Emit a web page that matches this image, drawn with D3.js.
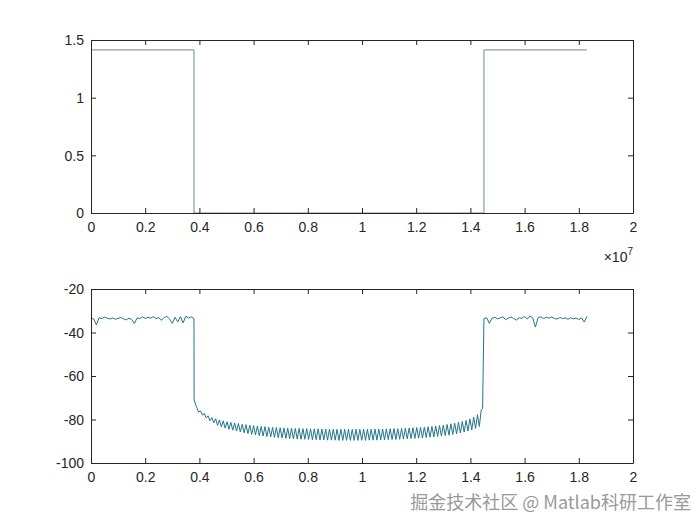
<!DOCTYPE html>
<html>
<head>
<meta charset="utf-8">
<script src="https://cdn.jsdelivr.net/npm/d3@7"></script>
<style>
  body { margin: 0; background: #fff; }
  svg { font-family: "Liberation Sans", Arial, sans-serif; }
</style>
</head>
<body>
<svg id="chart" width="700" height="525"></svg>
<script>
// x ticks shared by both panels (frequency, in units of 1e7)
const xTicks = [0, 0.2, 0.4, 0.6, 0.8, 1, 1.2, 1.4, 1.6, 1.8, 2];
const topYTicks = [0, 0.5, 1, 1.5];
const bottomYTicks = [-100, -80, -60, -40, -20];

// top panel: ideal magnitude response
const idealFreq = [0, 0.38, 0.38, 1.45, 1.45, 1.83];
const idealAmp = [1.4142, 1.4142, 0, 0, 1.4142, 1.4142];

// bottom panel: measured response in dB
// left passband, sampled every 0.01 from 0
const passLeftDb = [-33.5, -33.8, -36.5, -33.2, -33.6, -32.9, -33.4, -33.8, -33.3, -33.9,
  -33.5, -33.1, -33.7, -34.2, -33.4, -34.0, -35.9, -33.3, -33.6, -32.8,
  -33.5, -33.0, -33.4, -32.7, -33.6, -33.2, -34.4, -33.1, -32.6, -33.8,
  -35.8, -33.0, -35.2, -32.7, -35.6, -32.5, -33.4, -32.8, -33.6];
// falling edge
const fallFreq = [0.3805, 0.385];
const fallDb = [-71.0, -72.8];
// stopband ripple, sampled every 0.007 from 0.39
const stopDb = [
  -74.5, -76.6, -76.0, -78.0, -77.2, -79.3, -78.3, -80.6, -79.1, -81.5,
  -79.7, -82.7, -80.2, -83.4, -80.6, -84.0, -81.0, -84.5, -81.3, -84.9,
  -81.6, -85.3, -81.9, -85.7, -82.2, -86.1, -82.4, -86.5, -82.6, -86.8,
  -82.8, -87.1, -83.0, -87.4, -83.2, -87.6, -83.3, -87.8, -83.5, -88.0,
  -83.6, -88.2, -83.7, -88.4, -83.8, -88.5, -83.9, -88.7, -84.0, -88.8,
  -84.0, -88.9, -84.1, -89.0, -84.1, -89.1, -84.2, -89.1, -84.2, -89.2,
  -84.3, -89.3, -84.3, -89.3, -84.3, -89.4, -84.4, -89.4, -84.4, -89.5,
  -84.4, -89.5, -84.5, -89.5, -84.5, -89.6, -84.5, -89.6, -84.5, -89.6,
  -84.5, -89.6, -84.5, -89.6, -84.5, -89.6, -84.5, -89.6, -84.5, -89.6,
  -84.5, -89.5, -84.5, -89.5, -84.4, -89.5, -84.4, -89.4, -84.4, -89.4,
  -84.3, -89.3, -84.3, -89.2, -84.2, -89.2, -84.2, -89.1, -84.1, -89.0,
  -84.0, -88.9, -83.9, -88.8, -83.8, -88.7, -83.7, -88.6, -83.6, -88.5,
  -83.5, -88.3, -83.3, -88.1, -83.2, -88.0, -83.0, -87.8, -82.8, -87.6,
  -82.6, -87.4, -82.3, -87.2, -82.0, -86.9, -81.7, -86.6, -81.3, -86.2,
  -80.9, -85.8, -80.4, -85.3, -79.7, -84.8, -78.9, -84.1, -77.8, -83.2,
  -75.5];
// rising edge
const riseFreq = [1.445];
const riseDb = [-75.0];
// right passband, sampled every 0.01 from 1.45
const passRightDb = [-33.6, -33.2, -35.8, -33.4, -33.0, -33.7, -33.3, -32.8, -34.1, -33.4,
  -32.9, -33.6, -34.3, -33.2, -33.5, -32.6, -33.8, -32.4, -33.3, -37.5,
  -33.1, -32.8, -33.6, -33.0, -33.4, -32.9, -33.5, -33.8, -33.1, -33.6,
  -33.3, -33.9, -33.2, -33.7, -33.4, -34.0, -33.3, -35.2, -32.6];

const measured = [];
passLeftDb.forEach((v, i) => measured.push([i * 0.01, v]));
fallFreq.forEach((f, i) => measured.push([f, fallDb[i]]));
stopDb.forEach((v, i) => measured.push([0.39 + i * 0.007, v]));
riseFreq.forEach((f, i) => measured.push([f, riseDb[i]]));
passRightDb.forEach((v, i) => measured.push([1.45 + i * 0.01, v]));

const ideal = idealFreq.map((f, i) => [f, idealAmp[i]]);

const svg = d3.select("#chart");
const axisColor = "#262626";
const left = 91, right = 633;

const x = d3.scaleLinear().domain([0, 2]).range([left, right]);

function panel(top, bottom, yDomain, yTicks, data, color) {
  const y = d3.scaleLinear().domain(yDomain).range([bottom, top]);
  const g = svg.append("g");

  g.append("path")
    .datum(data)
    .attr("fill", "none")
    .attr("stroke", color)
    .attr("stroke-width", 1)
    .attr("d", d3.line().x(d => x(d[0])).y(d => y(d[1])));

  const fmt = d => String(+d.toFixed(1));

  const xb = g.append("g")
    .attr("transform", `translate(0,${bottom})`)
    .call(d3.axisBottom(x).tickValues(xTicks).tickFormat(fmt).tickSizeInner(-5).tickSizeOuter(0).tickPadding(9));
  const xt = g.append("g")
    .attr("transform", `translate(0,${top})`)
    .call(d3.axisTop(x).tickValues(xTicks).tickFormat("").tickSizeInner(-5).tickSizeOuter(0));
  const yl = g.append("g")
    .attr("transform", `translate(${left},0)`)
    .call(d3.axisLeft(y).tickValues(yTicks).tickFormat(fmt).tickSizeInner(-5).tickSizeOuter(0).tickPadding(7));
  const yr = g.append("g")
    .attr("transform", `translate(${right},0)`)
    .call(d3.axisRight(y).tickValues(yTicks).tickFormat("").tickSizeInner(-5).tickSizeOuter(0));

  [xb, xt, yl, yr].forEach(a => {
    a.selectAll("path, line").attr("stroke", axisColor);
    a.selectAll("text").attr("fill", axisColor).style("font-size", "14px");
  });
  yl.selectAll("text").attr("dy", "0.35em");
  return g;
}

panel(40, 213, [0, 1.5], topYTicks, ideal, "#6a8c97");
panel(289, 463, [-100, -20], bottomYTicks, measured, "#22768a");

// exponent label
svg.append("text")
  .attr("x", right)
  .attr("y", 262)
  .attr("text-anchor", "end")
  .attr("fill", axisColor)
  .style("font-size", "14px")
  .text("×10")
  .append("tspan")
  .attr("dy", "-7")
  .style("font-size", "10px")
  .text("7");

// watermark
svg.append("text")
  .attr("x", 691)
  .attr("y", 509)
  .attr("text-anchor", "end")
  .attr("fill", "#999")
  .attr("stroke", "#fff")
  .attr("stroke-width", 2)
  .attr("paint-order", "stroke")
  .style("font-family", "'Noto Sans CJK SC', sans-serif")
  .style("font-size", "18px")
  .text("掘金技术社区 @ Matlab科研工作室");
</script>
</body>
</html>
